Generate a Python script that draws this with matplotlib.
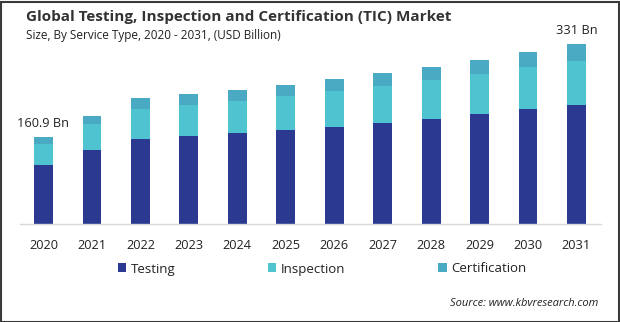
import matplotlib
matplotlib.use("Agg")
import matplotlib.pyplot as plt
import numpy as np

plt.rcParams['font.family'] = ['Open Sans', 'DejaVu Sans']

years = ['2020', '2021', '2022', '2023', '2024', '2025',
         '2026', '2027', '2028', '2029', '2030', '2031']
testing = [108.5, 136.2, 156.4, 161.9, 167.4, 173.0,
           178.5, 185.8, 193.2, 202.4, 211.6, 219.5]
inspection = [39.3, 47.8, 55.2, 57.0, 58.9, 62.6,
              66.8, 68.6, 71.8, 74.2, 77.8, 81.0]
certification = [13.1, 15.3, 20.2, 20.2, 20.2, 20.2,
                 21.5, 23.9, 23.9, 25.2, 27.0, 30.5]
end_labels = {0: '160.9 Bn', 11: '331 Bn'}

c_test = '#2B3990'
c_insp = '#4FC4D0'
c_cert = '#4AA9C3'

W, H = 620, 322
fig = plt.figure(figsize=(W / 100, H / 100), dpi=100)
ax = fig.add_axes([20 / W, 98 / H, 581 / W, 194 / H])

x = np.arange(len(years))
t = np.array(testing)
i = np.array(inspection)
c = np.array(certification)
bw = 0.39
ax.bar(x, t, bw, color=c_test, label='Testing')
ax.bar(x, i, bw, bottom=t, color=c_insp, label='Inspection')
ax.bar(x, c, bw, bottom=t + i, color=c_cert, label='Certification')

total = t + i + c
for k, txt in end_labels.items():
    ax.annotate(txt, (x[k], total[k]), xytext=(0, 5), textcoords='offset points',
                ha='center', va='bottom', fontsize=9.2, color='#222222')

ax.set_xlim(-0.485, 11.506)
ax.set_ylim(0, 357)
ax.set_xticks(x)
ax.set_xticklabels(years, fontsize=9.2, color='#222222')
ax.tick_params(axis='x', length=0, pad=11)
ax.set_yticks([])
for s in ['top', 'right', 'left']:
    ax.spines[s].set_visible(False)
ax.spines['bottom'].set_color('#d9d9d9')
ax.spines['bottom'].set_linewidth(1)

# legend row
handles, labels = ax.get_legend_handles_labels()
leg = fig.legend(handles, labels, loc='center', bbox_to_anchor=(322 / W, 1 - 269 / H),
                 ncol=3, frameon=False, fontsize=9.5, handlelength=0.65, handleheight=0.65,
                 handletextpad=0.35, columnspacing=7.0)
for txt in leg.get_texts():
    txt.set_color('#222222')

fig.text(26 / W, 1 - 17 / H, 'Global Testing, Inspection and Certification (TIC) Market',
         fontsize=11, fontweight='bold', color='#333333', va='center', ha='left')
fig.text(26 / W, 1 - 35 / H, 'Size, By Service Type, 2020 - 2031, (USD Billion)',
         fontsize=8.5, color='#222222', va='center', ha='left')
fig.text(598 / W, 1 - 304 / H, 'Source: www.kbvresearch.com',
         fontsize=8, style='italic', color='#222222', va='center', ha='right')

# outer frame
fig.patches.append(plt.Rectangle((0.5 / W, 0.5 / H), 1 - 2 / W, 1 - 2 / H,
                                 transform=fig.transFigure, fill=False,
                                 edgecolor='#3a3a3a', linewidth=1.5))

fig.savefig('out.png', dpi=100)
